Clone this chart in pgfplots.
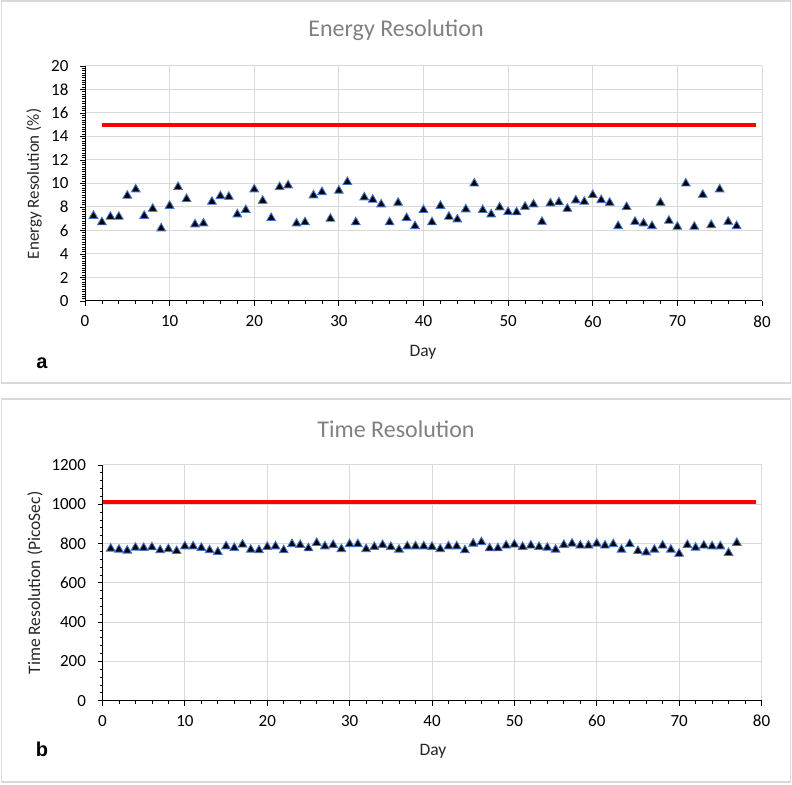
\documentclass[border=0pt]{standalone}
\usepackage{pgfplots}
\pgfplotsset{compat=1.18}
\usepackage{fontspec}
\setmainfont{Carlito}
\newfontfamily\arialb{Liberation Sans}
\definecolor{gridc}{HTML}{D9D9D9}
\definecolor{framec}{HTML}{D9D9D9}
\definecolor{mkedge}{HTML}{4472C4}
\definecolor{titlec}{HTML}{808080}
\definecolor{redline}{HTML}{FF0000}

\pgfplotstableread{
day val
1 7.25
2 6.7
3 7.17
4 7.17
5 8.96
6 9.5
7 7.25
8 7.85
9 6.18
10 8.1
11 9.7
12 8.68
13 6.52
14 6.6
15 8.45
16 8.93
17 8.87
18 7.37
19 7.74
20 9.5
21 8.53
22 7.06
23 9.7
24 9.84
25 6.6
26 6.7
27 8.99
28 9.27
29 7.0
30 9.39
31 10.13
32 6.7
33 8.82
34 8.62
35 8.22
36 6.7
37 8.36
38 7.06
39 6.37
40 7.74
41 6.7
42 8.1
43 7.17
44 6.94
45 7.8
46 10.0
47 7.74
48 7.37
49 7.97
50 7.57
51 7.55
52 8.02
53 8.22
54 6.74
55 8.31
56 8.4
57 7.85
58 8.56
59 8.45
60 9.02
61 8.59
62 8.36
63 6.37
64 8.0
65 6.74
66 6.6
67 6.37
68 8.36
69 6.83
70 6.32
71 10.0
72 6.32
73 9.04
74 6.46
75 9.5
76 6.74
77 6.37
}\energy

\pgfplotstableread{
day val
1 774
2 769
3 764
4 779
5 778
6 781
7 766
8 772
9 762
10 786
11 786
12 778
13 766
14 757
15 786
16 778
17 795
18 769
19 766
20 783
21 786
22 766
23 797
24 793
25 776
26 803
27 786
28 793
29 772
30 797
31 797
32 772
33 783
34 793
35 783
36 769
37 786
38 786
39 786
40 783
41 772
42 786
43 786
44 766
45 800
46 807
47 776
48 776
49 790
50 795
51 783
52 790
53 783
54 779
55 769
56 793
57 800
58 790
59 790
60 800
61 790
62 797
63 769
64 797
65 762
66 755
67 769
68 790
69 769
70 748
71 793
72 779
73 790
74 786
75 786
76 752
77 803
}\timeres

\pgfplotsset{
  panel/.style={
    scale only axis,
    axis x line*=bottom,
    axis y line*=left,
    axis line style={black, line width=1pt},
    xmin=0, xmax=80,
    xtick={0,10,...,80},
    minor x tick num=4,
    tick align=outside,
    major tick length=5pt,
    minor tick length=3pt,
    every tick/.style={black, line width=0.8pt},
    grid=major,
    major grid style={gridc, line width=1pt},
    clip=false,
    /pgf/number format/assume math mode=true,
    /pgf/number format/1000 sep={},
    tick label style={font=\fontsize{17}{19}\selectfont, black},
    xticklabel style={yshift=-6pt},
    yticklabel style={xshift=-8pt},
  },
  mk/.style={only marks, mark=triangle*, mark size=5pt,
    mark options={fill=black, draw=mkedge, line width=0.9pt}},
}

\begin{document}
\begin{tikzpicture}[x=1pt,y=1pt]
\useasboundingbox (0,0) rectangle (792,784);
% frames
\draw[framec, line width=1.2pt] (1.5,401) rectangle (790.5,783);
\draw[framec, line width=1.2pt] (1.5,2) rectangle (790.5,385);

% panel a
\begin{axis}[panel,
  at={(85pt,483pt)}, anchor=south west,
  width=677pt, height=235pt,
  ymin=0, ymax=20, ytick={0,2,...,20},
  minor y tick num=9,
]
\addplot[redline, line width=4pt] coordinates {(2,15) (79.3,15)};
\addplot[mk] table[x=day,y=val] {\energy};
\end{axis}
\node[font=\fontsize{24}{28}\selectfont, text=titlec] at (396,754) {Energy Resolution};
\node[font=\fontsize{17}{19}\selectfont, text=black!85, rotate=90] at (34,600) {Energy Resolution (\%)};
\node[font=\fontsize{17.5}{19}\selectfont, text=black!85] at (423,432) {Day};
\node[font=\arialb\bfseries\fontsize{20}{22}\selectfont] at (42,421) {a};

% panel b
\begin{axis}[panel,
  at={(102.5pt,83.3pt)}, anchor=south west,
  width=659pt, height=235.7pt,
  ymin=0, ymax=1200, ytick={0,200,...,1200},
  minor y tick num=4,
]
\addplot[redline, line width=4pt] coordinates {(0,1010) (79.3,1010)};
\addplot[mk] table[x=day,y=val] {\timeres};
\end{axis}
\node[font=\fontsize{24}{28}\selectfont, text=titlec] at (396,355) {Time Resolution};
\node[font=\fontsize{17.5}{19}\selectfont, text=black!85, rotate=90] at (35,201) {Time Resolution (PicoSec)};
\node[font=\fontsize{17.5}{19}\selectfont, text=black!85] at (433,33) {Day};
\node[font=\arialb\bfseries\fontsize{20}{22}\selectfont] at (42,35) {b};
\end{tikzpicture}
\end{document}
